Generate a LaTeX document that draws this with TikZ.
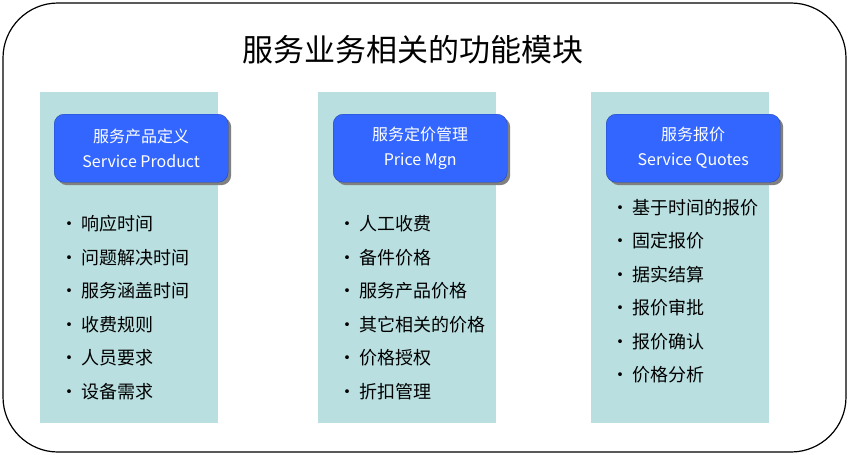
\documentclass[tikz,border=0pt]{standalone}
\usepackage{fontspec}
\setmainfont{Noto Sans CJK SC}
\usetikzlibrary{positioning,shadows}
\definecolor{panelblue}{HTML}{B9DFE0}
\definecolor{headblue}{HTML}{3366FF}
\tikzset{
  panel/.style={fill=panelblue, draw=none, minimum width=178pt, minimum height=331pt, anchor=north west, inner sep=0pt},
  header/.style={fill=headblue, draw=headblue!70!black, thin, rounded corners=10pt, minimum width=174pt, minimum height=68pt,
    anchor=north west, text=white, align=center, font=\fontsize{16}{25}\selectfont,
    drop shadow={shadow xshift=3pt, shadow yshift=-3pt, fill=black!50, opacity=1}},
  item/.style={anchor=west, font=\fontsize{18}{20}\selectfont, inner sep=0pt}
}
\begin{document}
\begin{tikzpicture}[x=1pt,y=-1pt]
  \useasboundingbox (0,0) rectangle (849,455);
  \draw[line width=1.2pt, rounded corners=55pt] (3,3) rectangle (846,452);
  \node (title) at (413,50) {\fontsize{31}{34}\selectfont 服务业务相关的功能模块};

  \node[panel] (p1) at (40,92) {};
  \node[panel] (p2) at (318,92) {};
  \node[panel] (p3) at (591,92) {};

  \node[header] (h1) at (54,114) {服务产品定义\\Service Product};
  \node[header] (h2) at (333,114) {服务定价管理\\Price Mgn};
  \node[header] (h3) at (606,114) {服务报价\\Service Quotes};

  % item lists
  \foreach \t [count=\i] in {响应时间,问题解决时间,服务涵盖时间,收费规则,人员要求,设备需求}
    \node[item] (a\i) at (60,190.5+33.5*\i) {•\,\t};
  \foreach \t [count=\i] in {人工收费,备件价格,服务产品价格,其它相关的价格,价格授权,折扣管理}
    \node[item] (b\i) at (338,190.5+33.5*\i) {•\,\t};
  \foreach \t [count=\i] in {基于时间的报价,固定报价,据实结算,报价审批,报价确认,价格分析}
    \node[item] (c\i) at (611,174+33.5*\i) {•\,\t};
\end{tikzpicture}
\end{document}
